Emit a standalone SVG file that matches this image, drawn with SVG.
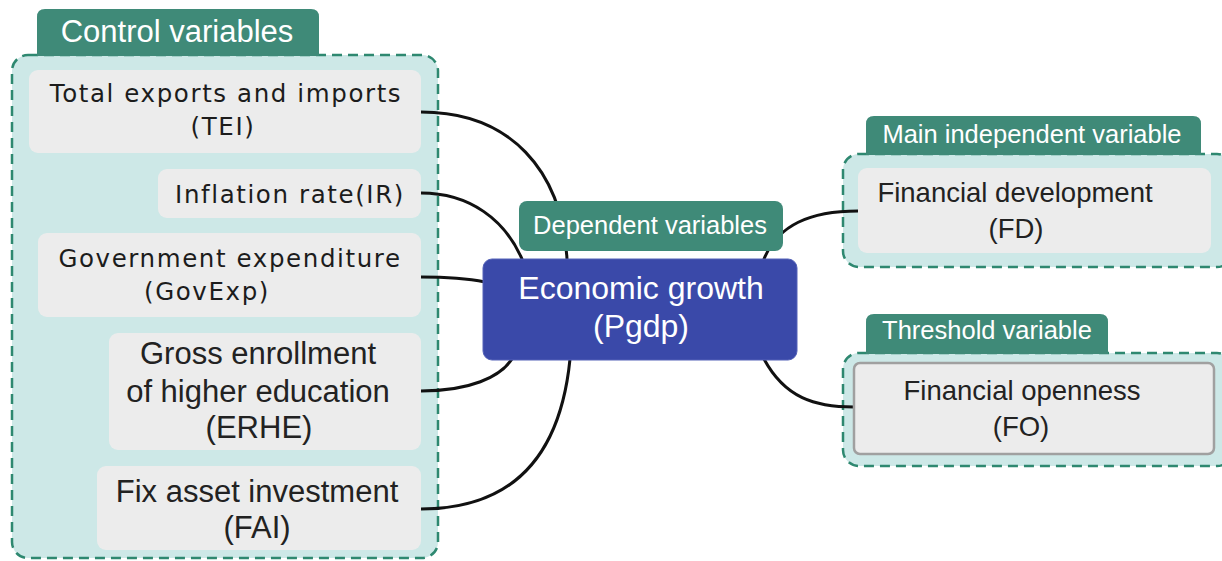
<svg xmlns="http://www.w3.org/2000/svg" width="1222" height="561" viewBox="0 0 1222 561">
  <style>
    .panel { fill: #cde8e7; stroke: #2e8870; stroke-width: 2.5; stroke-dasharray: 10 6; }
    .tab { fill: #3f8a78; }
    .tab-text { fill: #ffffff; font-family: "Liberation Sans", Arial, sans-serif; font-size: 25.5px; text-anchor: middle; }
    .box { fill: #ececec; }
    .label { fill: #222222; font-family: "Liberation Sans", Arial, sans-serif; font-size: 31px; text-anchor: middle; }
    .label-h { fill: #1c1c1c; font-family: "DejaVu Sans", Verdana, sans-serif; font-size: 24.5px; letter-spacing: 1.6px; text-anchor: middle; }
    .label-s { fill: #222222; font-family: "Liberation Sans", Arial, sans-serif; font-size: 27.5px; text-anchor: middle; }
    .link { fill: none; stroke: #111111; stroke-width: 3; stroke-linecap: round; }
  </style>

  <rect width="1222" height="561" fill="#ffffff"/>

  <!-- group panels -->
  <g id="control-group">
    <rect class="panel" x="12" y="55" width="426" height="503" rx="16"/>
    <path class="tab" d="M37,56 V17 Q37,9 45,9 H311 Q319,9 319,17 V56 Z"/>
    <text class="tab-text" x="177" y="42" style="font-size:31px">Control variables</text>
  </g>
  <g id="main-independent-group">
    <rect class="panel" x="843" y="154" width="390" height="113" rx="16"/>
    <path class="tab" d="M866,155 V124 Q866,116 874,116 H1193 Q1201,116 1201,124 V155 Z"/>
    <text class="tab-text" x="1032" y="143">Main independent variable</text>
  </g>
  <g id="threshold-group">
    <rect class="panel" x="843" y="353" width="390" height="113" rx="16"/>
    <path class="tab" d="M866,354 V322 Q866,314 874,314 H1100 Q1108,314 1108,322 V354 Z"/>
    <text class="tab-text" x="987" y="339">Threshold variable</text>
  </g>

  <!-- connectors -->
  <g id="connectors">
    <path class="link" d="M421,112 C510,112 562,170 567,259"/>
    <path class="link" d="M421,193 C470,193 505,220 522,259"/>
    <path class="link" d="M421,277 C450,277 470,279 485,282"/>
    <path class="link" d="M421,391 C470,391 500,377 512,359"/>
    <path class="link" d="M421,509 C510,509 560,460 570,359"/>
    <path class="link" d="M764,259 C778,225 810,211 858,211"/>
    <path class="link" d="M764,359 C785,398 815,407 854,407"/>
  </g>

  <!-- control variable nodes -->
  <g id="node-tei">
    <rect class="box" x="29" y="70" width="392" height="83" rx="9"/>
    <text class="label-h" x="226" y="102">Total exports and imports</text>
    <text class="label-h" x="223" y="135">(TEI)</text>
  </g>
  <g id="node-ir">
    <rect class="box" x="158" y="169" width="263" height="49" rx="9"/>
    <text class="label-h" x="290" y="203">Inflation rate(IR)</text>
  </g>
  <g id="node-govexp">
    <rect class="box" x="38" y="233" width="383" height="84" rx="9"/>
    <text class="label-h" x="230" y="267">Government expenditure</text>
    <text class="label-h" x="207" y="300">(GovExp)</text>
  </g>
  <g id="node-erhe">
    <rect class="box" x="109" y="333" width="312" height="117" rx="9"/>
    <text class="label" x="258" y="364">Gross enrollment</text>
    <text class="label" x="258" y="402">of higher education</text>
    <text class="label" x="259" y="438">(ERHE)</text>
  </g>
  <g id="node-fai">
    <rect class="box" x="97" y="466" width="324" height="84" rx="9"/>
    <text class="label" x="257" y="502">Fix asset investment</text>
    <text class="label" x="257" y="538">(FAI)</text>
  </g>

  <!-- dependent variable -->
  <g id="node-pgdp">
    <rect x="483" y="259" width="314" height="101" rx="9" fill="#3a49a9" stroke="#5563b8" stroke-width="1"/>
    <text x="641" y="299" fill="#ffffff" font-family="'Liberation Sans', Arial, sans-serif" font-size="32" text-anchor="middle">Economic growth</text>
    <text x="641" y="337" fill="#ffffff" font-family="'Liberation Sans', Arial, sans-serif" font-size="32" text-anchor="middle">(Pgdp)</text>
  </g>
  <g id="tab-dependent">
    <rect class="tab" x="519" y="201" width="264" height="50" rx="8"/>
    <text class="tab-text" x="650" y="234">Dependent variables</text>
  </g>

  <!-- right-hand nodes -->
  <g id="node-fd">
    <rect class="box" x="858" y="168" width="353" height="85" rx="9"/>
    <text class="label-s" x="1015" y="202">Financial development</text>
    <text class="label-s" x="1016" y="238">(FD)</text>
  </g>
  <g id="node-fo">
    <rect class="box" x="854" y="363" width="360" height="91" rx="6" stroke="#a0a0a0" stroke-width="2.5"/>
    <text class="label-s" x="1022" y="400">Financial openness</text>
    <text class="label-s" x="1021" y="436">(FO)</text>
  </g>
</svg>
